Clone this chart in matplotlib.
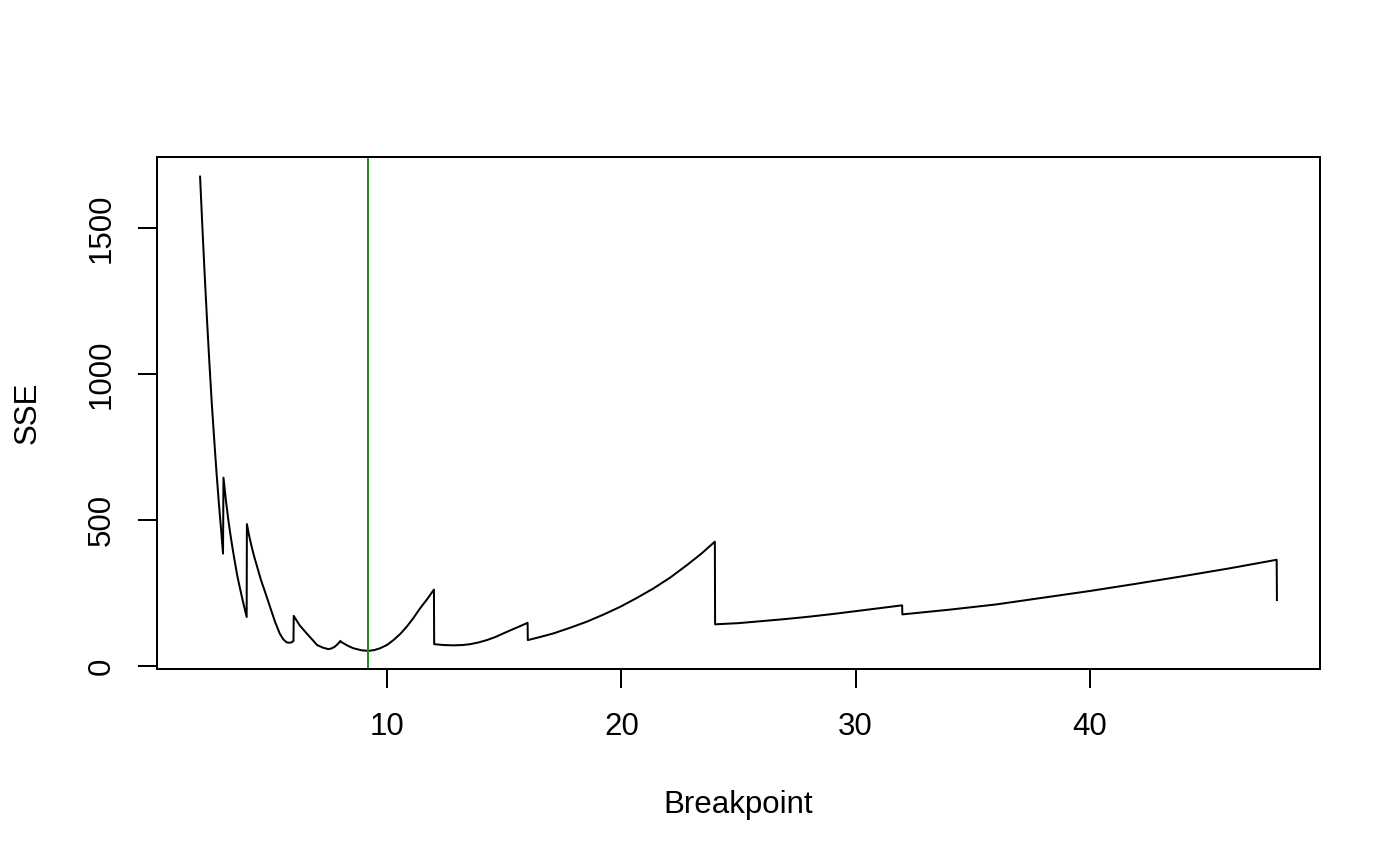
import matplotlib
matplotlib.use("Agg")
import matplotlib.pyplot as plt

# SSE against breakpoint (jumps share the same x)
breakpoint_x = [
    2.00, 2.10, 2.20, 2.30, 2.40, 2.50, 2.60, 2.70, 2.80, 2.90, 2.98,
    3.00, 3.10, 3.20, 3.30, 3.40, 3.50, 3.60, 3.70, 3.80, 3.90, 3.99,
    4.00, 4.10, 4.20, 4.30, 4.42, 4.60, 4.80, 5.00, 5.20, 5.40, 5.55, 5.70, 5.80, 5.90, 5.99,
    6.00, 6.25, 6.55, 6.80, 7.00, 7.25, 7.48, 7.60, 7.75, 7.90, 7.99,
    8.00, 8.30, 8.55, 8.90, 9.19, 9.45, 9.69, 10.00, 10.26, 10.55, 10.83, 11.10, 11.40, 11.70, 11.99,
    12.00, 12.40, 12.82, 13.20, 13.54, 13.90, 14.25, 14.60, 14.96, 15.30, 15.65, 15.99,
    16.00, 16.50, 17.10, 17.80, 18.52, 19.25, 19.95, 20.65, 21.37, 22.10, 22.80, 23.40, 23.99,
    24.00, 25.00, 26.00, 27.00, 28.00, 29.00, 30.00, 31.00, 31.99,
    32.00, 34.00, 36.00, 38.00, 40.00, 42.00, 44.00, 46.00, 47.99,
    48.00,
]
sse = [
    1676, 1500, 1335, 1180, 1035, 900, 780, 665, 560, 465, 385,
    645, 570, 505, 448, 397, 350, 305, 268, 232, 198, 168,
    486, 445, 410, 378, 345, 295, 248, 200, 152, 112, 92, 81, 80, 81, 86,
    172, 140, 112, 90, 72, 63, 58, 60, 66, 77, 86,
    84, 70, 61, 54, 52, 55, 61, 73, 89, 110, 135, 163, 198, 229, 262,
    75, 72, 71, 72, 75, 81, 89, 99, 112, 124, 136, 148,
    89, 99, 112, 131, 152, 177, 203, 233, 266, 304, 346, 384, 426,
    143, 147, 154, 161, 169, 178, 188, 198, 208,
    177, 193, 211, 234, 257, 282, 308, 335, 364,
    226,
]
best_break = 9.19

x_ticks = [10, 20, 30, 40]
y_ticks = [0, 500, 1000, 1500]

plt.rcParams['font.family'] = ['Liberation Sans', 'DejaVu Sans']
lw = 1.44
fs = 22.5

fig = plt.figure(figsize=(14, 8.66), dpi=100)
ax = fig.add_axes([157 / 1400, 1 - 669 / 866, (1320 - 157) / 1400, (669 - 157) / 866])

ax.plot(breakpoint_x, sse, color='black', lw=lw)
ax.axvline(best_break, color='#228B22', lw=lw)

ax.set_xlim(0.16, 49.84)
ax.set_ylim(-10, 1743)
ax.set_xticks(x_ticks)
ax.set_yticks(y_ticks)
ax.set_yticklabels([str(v) for v in y_ticks], rotation=90, va='center')
ax.tick_params(axis='both', direction='out', length=13.8, width=lw, labelsize=fs)
ax.tick_params(axis='x', pad=17)
ax.tick_params(axis='y', pad=15)
for s in ax.spines.values():
    s.set_linewidth(lw)

fig.text(738.5 / 1400, (866 - 813) / 866, 'Breakpoint', ha='center', va='baseline', fontsize=fs)
fig.text(36 / 1400, 1 - 413 / 866, 'SSE', ha='center', va='baseline', rotation=90,
         rotation_mode='anchor', fontsize=fs)

fig.savefig('out.png', dpi=100)
